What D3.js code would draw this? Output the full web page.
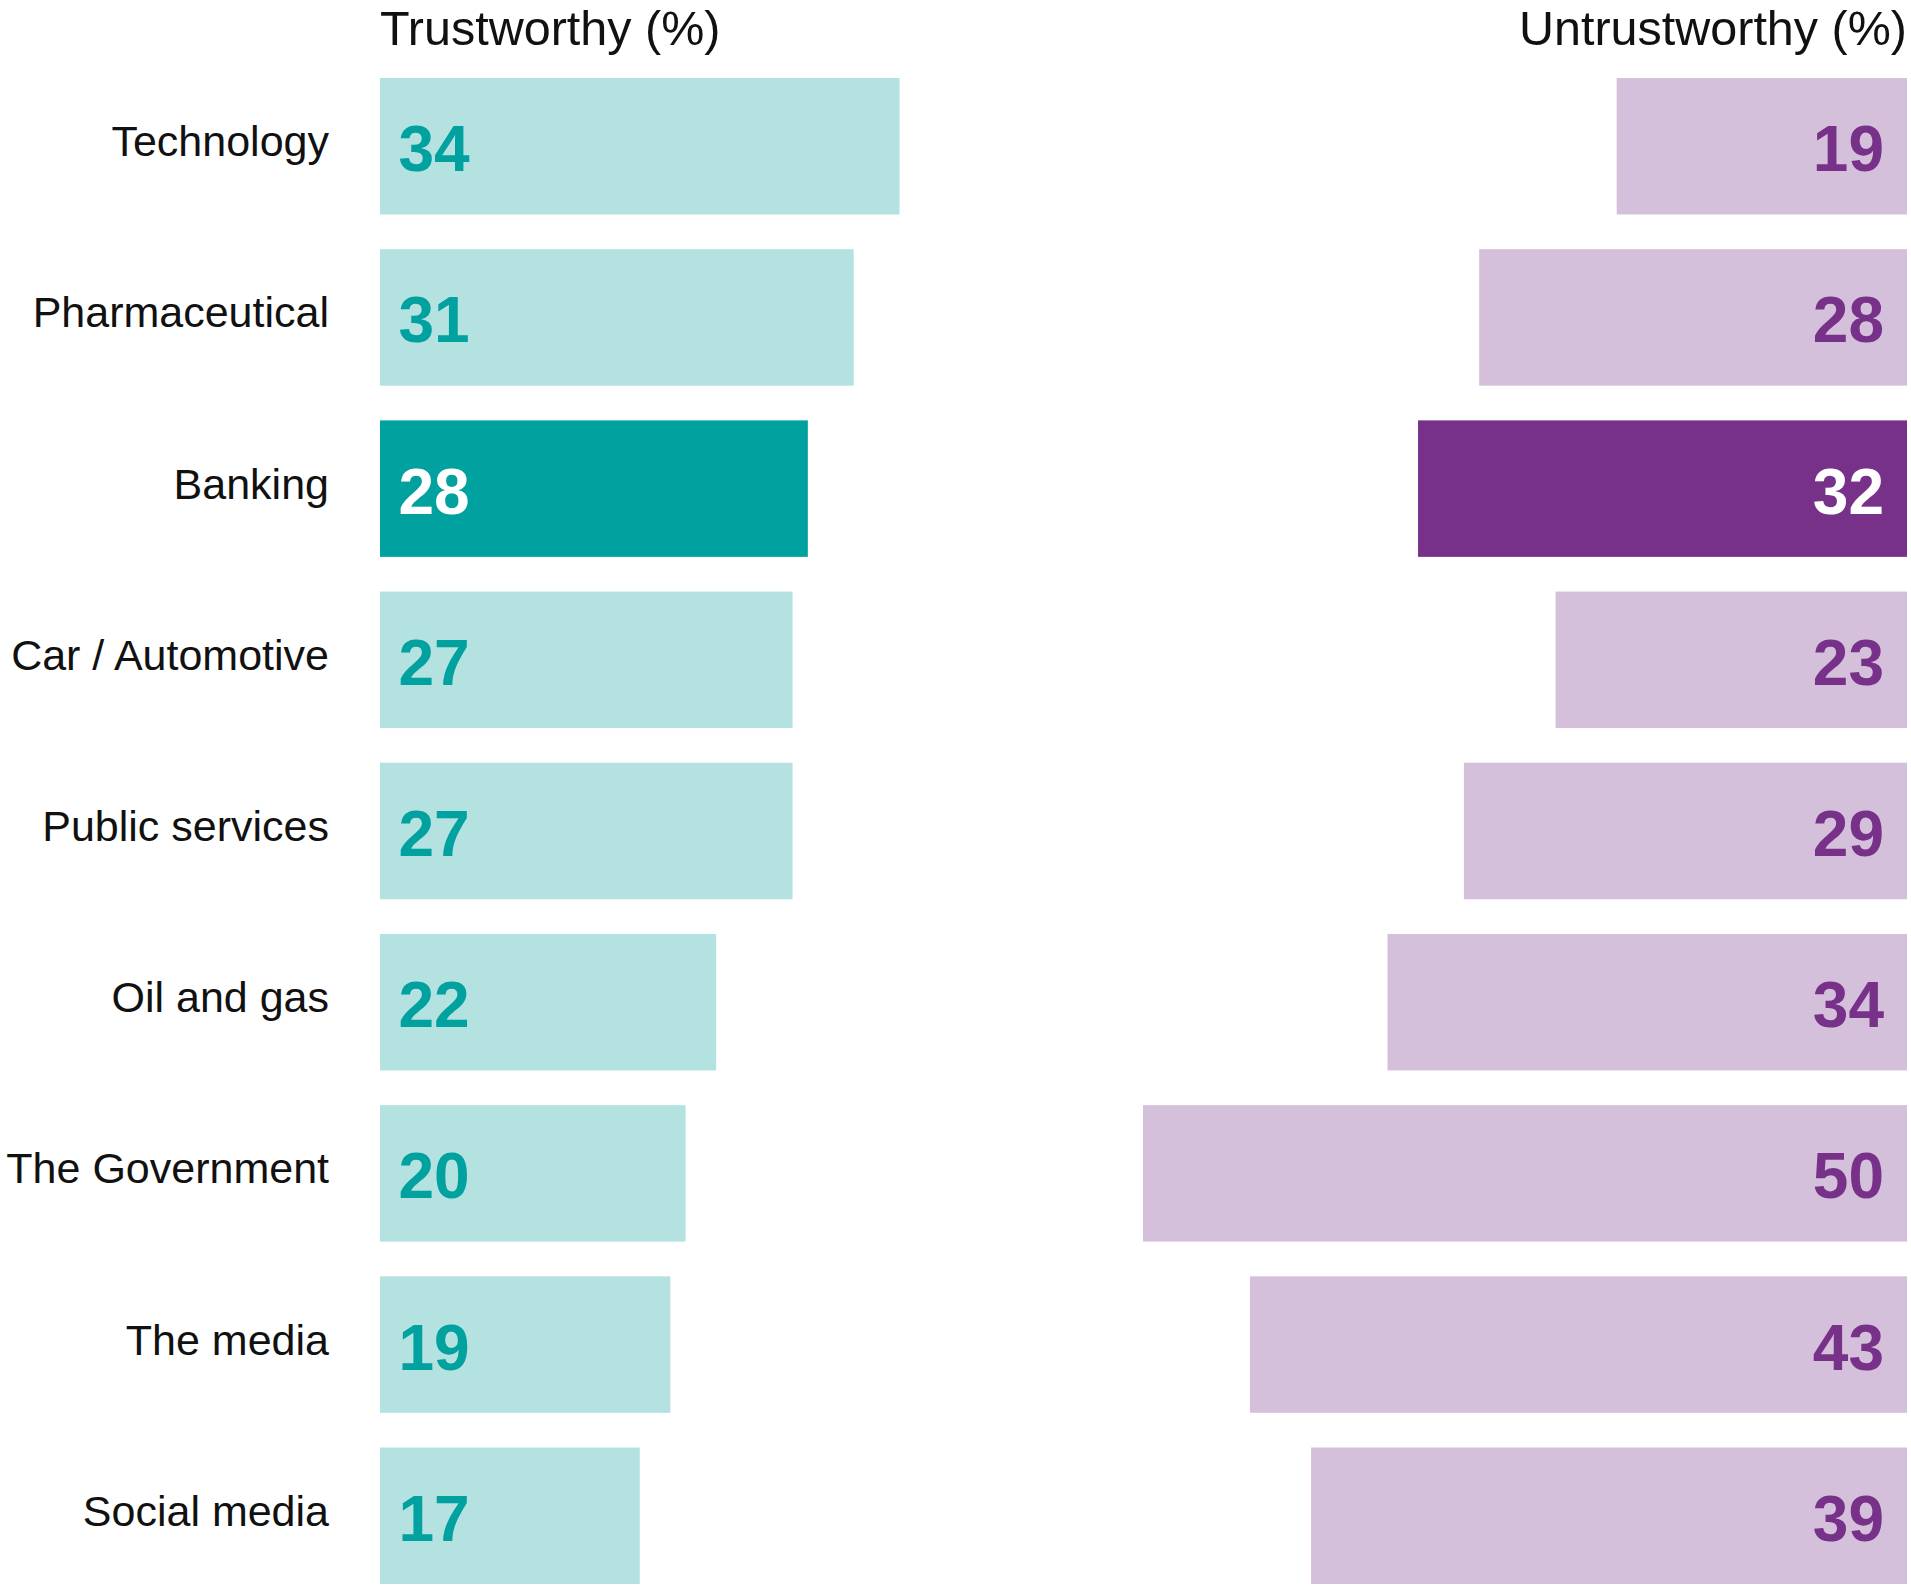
<!DOCTYPE html>
<html>
<head>
<meta charset="utf-8">
<script src="https://cdn.jsdelivr.net/npm/d3@7"></script>
<style>
  html, body { margin: 0; padding: 0; background: #fff; }
  svg { display: block; }
  text { font-family: "Liberation Sans", Arial, Helvetica, sans-serif; }
</style>
</head>
<body>
<svg id="chart"></svg>
<script>
// Survey: share of respondents rating each sector trustworthy / untrustworthy
const categories = [
  "Technology", "Pharmaceutical", "Banking", "Car / Automotive",
  "Public services", "Oil and gas", "The Government", "The media", "Social media"
];
const trustworthy   = [34, 31, 28, 27, 27, 22, 20, 19, 17];
const untrustworthy = [19, 28, 32, 23, 29, 34, 50, 43, 39];
const highlighted = "Banking";
const headers = ["Trustworthy (%)", "Untrustworthy (%)"];

const W = 1911, H = 1585;
const svg = d3.select("#chart").attr("width", W).attr("height", H);

const colors = {
  trustLight: "#b3e2e1", trustDark: "#00a19f",
  untrustLight: "#d5c0db", untrustDark: "#773189"
};

const y = d3.scaleBand().domain(categories).range([78, 1584])
  .paddingInner(0.2027).paddingOuter(0);

const leftX0 = 380, rightX1 = 1907, maxVal = 50, unit = 15.28;
const xL = d3.scaleLinear().domain([0, maxVal]).range([leftX0, leftX0 + unit * maxVal]);
const xR = d3.scaleLinear().domain([0, maxVal]).range([rightX1, rightX1 - unit * maxVal]);

const rows = categories.map((c, i) => ({ cat: c, t: trustworthy[i], u: untrustworthy[i] }));

// Column headers
svg.append("text").attr("x", leftX0).attr("y", 45)
  .attr("font-size", 48.5).attr("fill", "#111").text(headers[0]);
svg.append("text").attr("x", rightX1).attr("y", 45).attr("text-anchor", "end")
  .attr("font-size", 48.5).attr("fill", "#111").text(headers[1]);

const g = svg.append("g");

// Category labels
g.selectAll(".cat").data(rows).join("text")
  .attr("class", "cat")
  .attr("x", 329)
  .attr("y", d => y(d.cat) + y.bandwidth() / 2 + 10)
  .attr("text-anchor", "end")
  .attr("font-size", 43)
  .attr("fill", "#111")
  .text(d => d.cat);

// Trustworthy bars
g.selectAll(".tbar").data(rows).join("rect")
  .attr("class", "tbar")
  .attr("x", xL(0))
  .attr("y", d => y(d.cat))
  .attr("width", d => xL(d.t) - xL(0))
  .attr("height", y.bandwidth())
  .attr("fill", d => d.cat === highlighted ? colors.trustDark : colors.trustLight);

g.selectAll(".tval").data(rows).join("text")
  .attr("class", "tval")
  .attr("x", xL(0) + 18.5)
  .attr("y", d => y(d.cat) + y.bandwidth() / 2 + 25)
  .attr("font-size", 64)
  .attr("font-weight", "bold")
  .attr("fill", d => d.cat === highlighted ? "#fff" : colors.trustDark)
  .text(d => d.t);

// Untrustworthy bars
g.selectAll(".uval-bar").data(rows).join("rect")
  .attr("class", "uval-bar")
  .attr("x", d => xR(d.u))
  .attr("y", d => y(d.cat))
  .attr("width", d => xR(0) - xR(d.u))
  .attr("height", y.bandwidth())
  .attr("fill", d => d.cat === highlighted ? colors.untrustDark : colors.untrustLight);

g.selectAll(".uval").data(rows).join("text")
  .attr("class", "uval")
  .attr("x", xR(0) - 23)
  .attr("y", d => y(d.cat) + y.bandwidth() / 2 + 25)
  .attr("text-anchor", "end")
  .attr("font-size", 64)
  .attr("font-weight", "bold")
  .attr("fill", d => d.cat === highlighted ? "#fff" : colors.untrustDark)
  .text(d => d.u);
</script>
</body>
</html>
